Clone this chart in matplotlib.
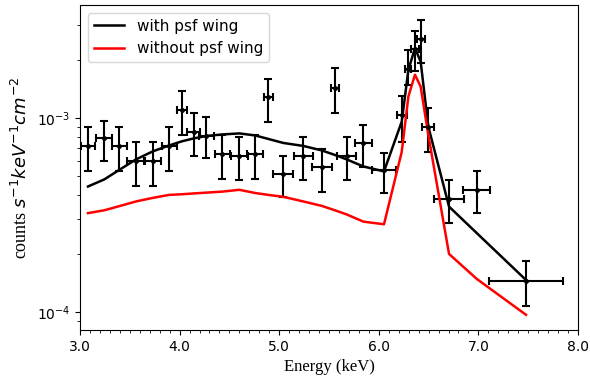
import matplotlib
matplotlib.use('Agg')
import matplotlib.pyplot as plt
from matplotlib.ticker import MultipleLocator, FormatStrFormatter

# data points (keV, counts s^-1 keV^-1 cm^-2)
energia = [3.08, 3.244, 3.395, 3.562, 3.73, 3.894, 4.021, 4.141, 4.268, 4.429,
           4.6, 4.76, 4.891, 5.041, 5.242, 5.427, 5.56, 5.678, 5.845, 6.052,
           6.23, 6.297, 6.363, 6.42, 6.497, 6.705, 6.983, 7.478]
largura = [0.075, 0.08, 0.073, 0.088, 0.083, 0.075, 0.05, 0.067, 0.075, 0.078,
           0.085, 0.08, 0.047, 0.1, 0.097, 0.1, 0.043, 0.093, 0.083, 0.12,
           0.05, 0.03, 0.04, 0.04, 0.06, 0.153, 0.137, 0.37]
fluxo = [7.20e-4, 7.91e-4, 7.20e-4, 6.03e-4, 6.03e-4, 7.20e-4, 1.10e-3, 8.50e-4, 8.11e-4, 6.52e-4,
         6.39e-4, 6.52e-4, 1.28e-3, 5.14e-4, 6.39e-4, 5.57e-4, 1.43e-3, 6.39e-4, 7.46e-4, 5.39e-4,
         1.03e-3, 1.79e-3, 2.26e-3, 2.55e-3, 9.02e-4, 3.82e-4, 4.26e-4, 1.45e-4]
fluxo_sup = [9.0e-4, 9.69e-4, 9.0e-4, 7.55e-4, 7.55e-4, 9.0e-4, 1.37e-3, 1.06e-3, 1.01e-3, 8.17e-4,
             8.0e-4, 8.17e-4, 1.59e-3, 6.4e-4, 8.0e-4, 6.92e-4, 1.80e-3, 8.0e-4, 9.2e-4, 6.58e-4,
             1.29e-3, 2.24e-3, 2.79e-3, 3.18e-3, 1.13e-3, 4.79e-4, 5.33e-4, 1.82e-4]
fluxo_inf = [5.35e-4, 6.02e-4, 5.35e-4, 4.48e-4, 4.48e-4, 5.35e-4, 8.17e-4, 6.4e-4, 6.19e-4, 4.85e-4,
             4.79e-4, 4.85e-4, 9.57e-4, 3.93e-4, 4.79e-4, 4.14e-4, 1.06e-3, 4.79e-4, 5.61e-4, 4.12e-4,
             7.55e-4, 1.48e-3, 1.75e-3, 1.91e-3, 6.7e-4, 2.88e-4, 3.23e-4, 1.07e-4]

# models
com_psf = [4.43e-4, 4.82e-4, 5.40e-4, 6.11e-4, 6.72e-4, 7.21e-4, 7.57e-4, 7.84e-4, 8.07e-4, 8.22e-4,
           8.32e-4, 8.12e-4, 7.79e-4, 7.43e-4, 7.17e-4, 6.80e-4, 6.44e-4, 6.11e-4, 5.62e-4, 5.30e-4,
           9.57e-4, 1.77e-3, 2.29e-3, 1.95e-3, 9.02e-4, 3.49e-4, 2.55e-4, 1.46e-4]
sem_psf = [3.23e-4, 3.34e-4, 3.51e-4, 3.71e-4, 3.87e-4, 4.01e-4, 4.04e-4, 4.08e-4, 4.12e-4, 4.17e-4,
           4.26e-4, 4.10e-4, 4.01e-4, 3.92e-4, 3.71e-4, 3.52e-4, 3.34e-4, 3.18e-4, 2.92e-4, 2.83e-4,
           6.68e-4, 1.29e-3, 1.67e-3, 1.45e-3, 8.17e-4, 1.99e-4, 1.48e-4, 9.66e-5]

fig = plt.figure(figsize=(5.9, 3.81), dpi=100)
ax = fig.add_axes([0.1356, 0.1339, 0.8441, 0.853])

erro_baixo = [f - i for f, i in zip(fluxo, fluxo_inf)]
erro_cima = [s - f for f, s in zip(fluxo, fluxo_sup)]
ax.errorbar(energia, fluxo, xerr=largura, yerr=[erro_baixo, erro_cima], fmt='o', ms=2.5,
            color='black', ecolor='black', elinewidth=1.5, capsize=3, capthick=1.5)

ax.plot(energia, com_psf, color='black', lw=1.8, label='with psf wing')
ax.plot(energia, sem_psf, color='red', lw=1.8, label='without psf wing')

ax.set_yscale('log')
ax.set_xlim(3.0, 8.0)
ax.set_ylim(8.07e-5, 3.82e-3)
ax.xaxis.set_major_locator(MultipleLocator(1.0))
ax.xaxis.set_minor_locator(MultipleLocator(0.1))
ax.xaxis.set_major_formatter(FormatStrFormatter('%.1f'))
ax.tick_params(labelsize=10)

ax.set_xlabel('Energy (keV)', family='Liberation Serif', fontsize=12)
ax.set_ylabel('counts $s^{-1}keV^{-1}cm^{-2}$', family='Liberation Serif', fontsize=13)

ax.legend(loc='upper left', fontsize=11)

fig.savefig('out.png', dpi=100)
